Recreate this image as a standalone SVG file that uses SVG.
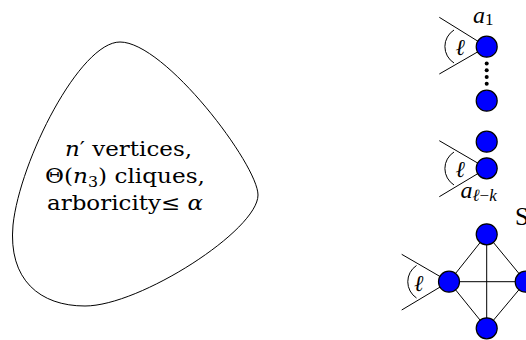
<svg xmlns="http://www.w3.org/2000/svg" width="526" height="340" viewBox="0 0 526 340">
<style>
.v{fill:#0000ff;stroke:#000;stroke-width:1.2}
.e{stroke:#000;stroke-width:1;fill:none}
.t{font-family:"Liberation Serif","DejaVu Serif",serif;fill:#000}
.b{font-family:"DejaVu Serif","Liberation Serif",serif;fill:#000;font-size:20.5px}
.i{font-style:italic}
</style>
<rect width="526" height="340" fill="#fff"/>
<g id="blob">
<path class="e" d="M 120,42 C 80,42 20,160 13,225 C 8,280 40,306 85,306 C 140,306 258,230 258,195 C 258,165 165,42 120,42 Z"/>
<text class="b" x="65" y="156" textLength="127" lengthAdjust="spacingAndGlyphs"><tspan class="i">n</tspan>′ vertices,</text>
<text class="b" x="45" y="183" textLength="160" lengthAdjust="spacingAndGlyphs">Θ(<tspan class="i">n</tspan><tspan font-size="14" dy="4">3</tspan><tspan dy="-4">) cliques,</tspan></text>
<text class="b" x="47" y="210" textLength="156" lengthAdjust="spacingAndGlyphs">arboricity≤ <tspan class="i">α</tspan></text>
</g>
<g id="connectors">
<line class="e" x1="439.3" y1="17.3" x2="486.7" y2="46.7"/>
<line class="e" x1="439.3" y1="74" x2="486.7" y2="46.7"/>
<path class="e" d="M 454,30 A 19.5 19.5 0 0 0 454,63"/>
<line class="e" x1="439.3" y1="140.7" x2="486.7" y2="168.3"/>
<line class="e" x1="439.3" y1="196.7" x2="486.7" y2="168.3"/>
<path class="e" d="M 454,152 A 19.5 19.5 0 0 0 454,185"/>
<line class="e" x1="401.7" y1="254.3" x2="449" y2="281.7"/>
<line class="e" x1="401.7" y1="310" x2="449" y2="281.7"/>
<path class="e" d="M 416.5,265.5 A 19.5 19.5 0 0 0 416.5,298"/>
<line class="e" x1="486.7" y1="234.3" x2="449" y2="281.7"/>
<line class="e" x1="486.7" y1="234.3" x2="525.7" y2="281.7"/>
<line class="e" x1="449" y1="281.7" x2="486.7" y2="328.3"/>
<line class="e" x1="525.7" y1="281.7" x2="486.7" y2="328.3"/>
<line class="e" x1="449" y1="281.7" x2="525.7" y2="281.7"/>
<line class="e" x1="486.7" y1="234.3" x2="486.7" y2="328.3"/>
</g>
<g id="dots">
<circle cx="486.7" cy="63.5" r="2"/>
<circle cx="486.7" cy="70.3" r="2"/>
<circle cx="486.7" cy="77" r="2"/>
<circle cx="486.7" cy="83.7" r="2"/>
</g>
<g id="a1"><circle class="v" cx="486.7" cy="46.7" r="10.5"/></g>
<g id="n2"><circle class="v" cx="486.7" cy="100.7" r="10.5"/></g>
<g id="n3"><circle class="v" cx="486.7" cy="141.7" r="10.5"/></g>
<g id="alk"><circle class="v" cx="486.7" cy="168.3" r="10.5"/></g>
<g id="k-top"><circle class="v" cx="486.7" cy="234.3" r="10.5"/></g>
<g id="k-left"><circle class="v" cx="449" cy="281.7" r="10.5"/></g>
<g id="k-right"><circle class="v" cx="525.7" cy="281.7" r="10.5"/></g>
<g id="k-bottom"><circle class="v" cx="486.7" cy="328.3" r="10.5"/></g>
<g id="labels">
<text class="t" font-size="24" x="473" y="22.7"><tspan class="i">a</tspan><tspan font-size="17" dy="2.5">1</tspan></text>
<text class="t i" font-size="23" x="455.5" y="54.5">ℓ</text>
<text class="t i" font-size="23" x="455.5" y="177">ℓ</text>
<text class="t i" font-size="23" x="414" y="291">ℓ</text>
<text class="t" font-size="24" x="460.5" y="198"><tspan class="i">a</tspan><tspan font-size="17" dy="3"><tspan class="i">ℓ</tspan>−<tspan class="i">k</tspan></tspan></text>
<text class="t" font-size="25" x="515" y="225">S</text>
</g>
</svg>
